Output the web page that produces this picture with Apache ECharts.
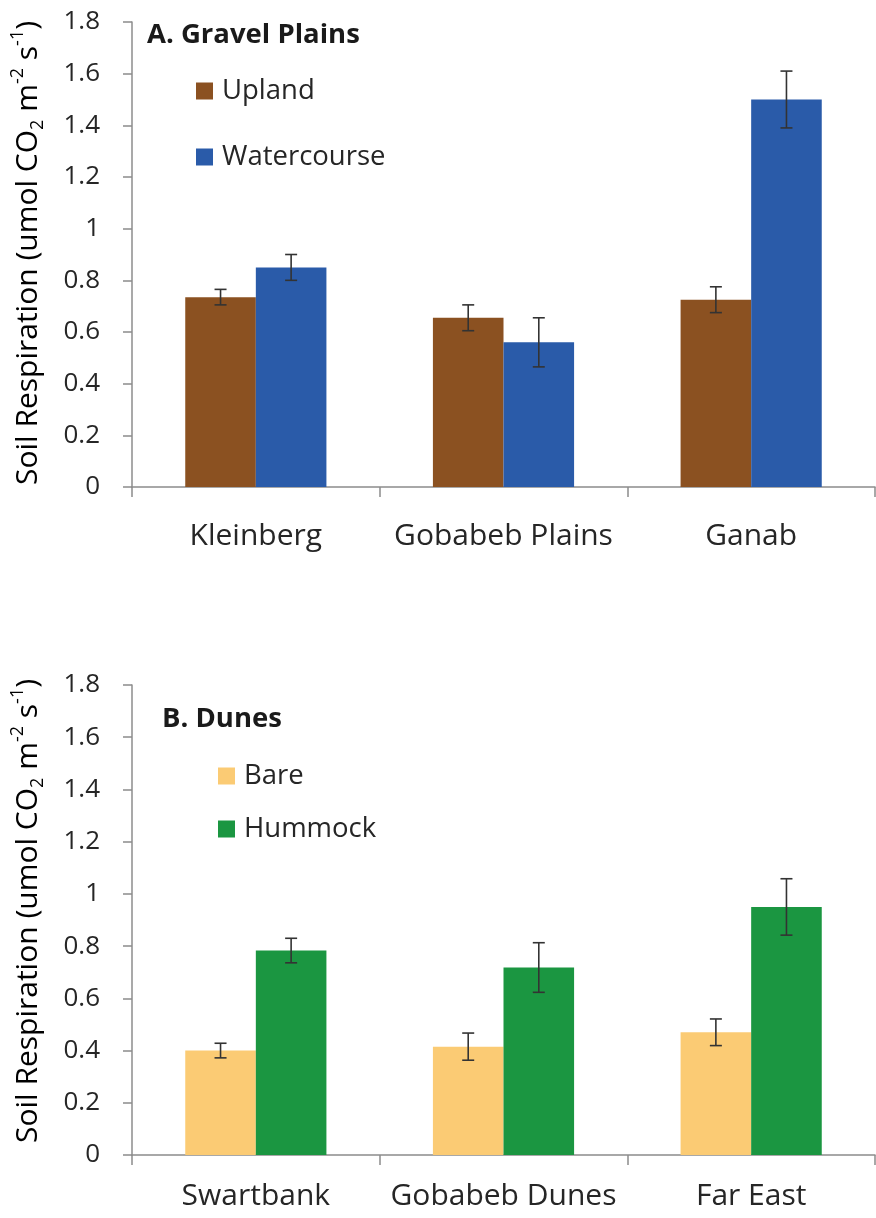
<!DOCTYPE html>
<html>
<head>
<meta charset="utf-8">
<script src="https://cdn.jsdelivr.net/npm/echarts@6/dist/echarts.min.js"></script>
<style>
html,body{margin:0;padding:0;background:#fff;}
#c{width:876px;height:1218px;}
</style>
</head>
<body>
<div id="c"></div>
<script>
// ---- data ----
const categoriesA = ['Kleinberg', 'Gobabeb Plains', 'Ganab'];
const uplandMean = [0.735, 0.655, 0.725];
const uplandErr = [0.03, 0.05, 0.05];
const watercourseMean = [0.85, 0.56, 1.50];
const watercourseErr = [0.05, 0.095, 0.11];

const categoriesB = ['Swartbank', 'Gobabeb Dunes', 'Far East'];
const bareMean = [0.40, 0.415, 0.47];
const bareErr = [0.028, 0.052, 0.051];
const hummockMean = [0.783, 0.718, 0.95];
const hummockErr = [0.047, 0.095, 0.108];

const yTickLabels = ['0', '0.2', '0.4', '0.6', '0.8', '1', '1.2', '1.4', '1.6', '1.8'];
const panelTitles = ['A. Gravel Plains', 'B. Dunes'];
const seriesNamesA = ['Upland', 'Watercourse'];
const seriesNamesB = ['Bare', 'Hummock'];

// ---- styles ----
const FONT = 'Open Sans';
const TXT = '#262626';
const AXIS = '#8c8c8c';
const colors = { Upland: '#8B5121', Watercourse: '#2A5BA9', Bare: '#FBCB74', Hummock: '#1B9641' };
const GAP = 0.43;

function errData(mean, err) {
  return mean.map((m, i) => [i, m, err[i]]);
}
function errSeries(name, mean, err, axisIdx, side) {
  return {
    type: 'custom',
    name: name + ' err',
    xAxisIndex: axisIdx,
    yAxisIndex: axisIdx,
    z: 10,
    silent: true,
    data: errData(mean, err),
    encode: { x: 0, y: 1 },
    renderItem: function (params, api) {
      const idx = api.value(0), m = api.value(1), e = api.value(2);
      const bw = api.size([1, 0])[0];
      const off = side * bw * (1 - GAP) / 4;
      const top = api.coord([idx, m + e]);
      const bot = api.coord([idx, m - e]);
      const x = top[0] + off;
      const cap = 6;
      const st = { stroke: '#333', lineWidth: 1.6 };
      return {
        type: 'group',
        children: [
          { type: 'line', shape: { x1: x, y1: top[1], x2: x, y2: bot[1] }, style: st },
          { type: 'line', shape: { x1: x - cap, y1: top[1], x2: x + cap, y2: top[1] }, style: st },
          { type: 'line', shape: { x1: x - cap, y1: bot[1], x2: x + cap, y2: bot[1] }, style: st }
        ]
      };
    }
  };
}
function barSeries(name, mean, axisIdx) {
  return {
    type: 'bar', name: name, xAxisIndex: axisIdx, yAxisIndex: axisIdx,
    data: mean, barGap: '0%', barCategoryGap: (GAP * 100) + '%',
    itemStyle: { color: colors[name] }
  };
}
function xAxis(cats, gridIndex, margin) {
  return {
    type: 'category', gridIndex: gridIndex, data: cats,
    axisLine: { show: true, lineStyle: { color: AXIS, width: 1.5 } },
    axisTick: { show: true, length: 10, lineStyle: { color: AXIS, width: 1.5 } },
    axisLabel: { interval: 0, color: TXT, fontFamily: FONT, fontSize: 30, margin: margin }
  };
}
function yAxis(gridIndex) {
  return {
    type: 'value', gridIndex: gridIndex, min: 0, max: 1.8, interval: 0.2,
    splitLine: { show: false },
    axisLine: { show: true, lineStyle: { color: AXIS, width: 1.5 } },
    axisTick: { show: true, length: 9, lineStyle: { color: AXIS, width: 1.5 } },
    axisLabel: {
      color: TXT, fontFamily: FONT, fontSize: 26, margin: 32,
      formatter: function (v) { return yTickLabels[Math.round(v / 0.2)]; }
    }
  };
}
const yTitleRich = {
  a: { fontFamily: FONT, fontSize: 30, color: TXT, lineHeight: 38 },
  sub: { fontFamily: FONT, fontSize: 18, color: TXT, lineHeight: 18, verticalAlign: 'bottom' },
  sup: { fontFamily: FONT, fontSize: 18, color: TXT, lineHeight: 18, verticalAlign: 'top' }
};
const yTitleText = '{a|Soil Respiration (umol CO}{sub|2}{a| m}{sup|-2}{a| s}{sup|-1}{a|)}';

const chart = echarts.init(document.getElementById('c'), null, { renderer: 'canvas' });
chart.setOption({
  animation: false,
  backgroundColor: '#fff',
  title: [
    { text: panelTitles[0], left: 147, top: 21, padding: 0,
      textStyle: { fontFamily: FONT, fontWeight: 'bold', fontSize: 27.5, color: '#1a1a1a' } },
    { text: panelTitles[1], left: 162, top: 705, padding: 0,
      textStyle: { fontFamily: FONT, fontWeight: 'bold', fontSize: 27.5, color: '#1a1a1a' } }
  ],
  legend: [
    { data: seriesNamesA, orient: 'vertical', left: 196, top: 77, padding: 0,
      itemWidth: 17, itemHeight: 17, itemGap: 38, icon: 'rect',
      textStyle: { fontFamily: FONT, fontSize: 27.5, color: TXT, padding: [0, 0, 0, 4] } },
    { data: seriesNamesB, orient: 'vertical', left: 218, top: 762, padding: 0,
      itemWidth: 17, itemHeight: 17, itemGap: 25, icon: 'rect',
      textStyle: { fontFamily: FONT, fontSize: 27.5, color: TXT, padding: [0, 0, 0, 4] } }
  ],
  grid: [
    { left: 132, top: 22, width: 743, height: 465 },
    { left: 132, top: 685, width: 743, height: 470 }
  ],
  xAxis: [xAxis(categoriesA, 0, 34), xAxis(categoriesB, 1, 26)],
  yAxis: [yAxis(0), yAxis(1)],
  graphic: [
    { type: 'text', x: 28, y: 253, rotation: Math.PI / 2,
      style: { text: yTitleText, rich: yTitleRich, align: 'center', verticalAlign: 'middle' } },
    { type: 'text', x: 28, y: 911, rotation: Math.PI / 2,
      style: { text: yTitleText, rich: yTitleRich, align: 'center', verticalAlign: 'middle' } }
  ],
  series: [
    barSeries('Upland', uplandMean, 0),
    barSeries('Watercourse', watercourseMean, 0),
    errSeries('Upland', uplandMean, uplandErr, 0, -1),
    errSeries('Watercourse', watercourseMean, watercourseErr, 0, 1),
    barSeries('Bare', bareMean, 1),
    barSeries('Hummock', hummockMean, 1),
    errSeries('Bare', bareMean, bareErr, 1, -1),
    errSeries('Hummock', hummockMean, hummockErr, 1, 1)
  ]
});
</script>
</body>
</html>
